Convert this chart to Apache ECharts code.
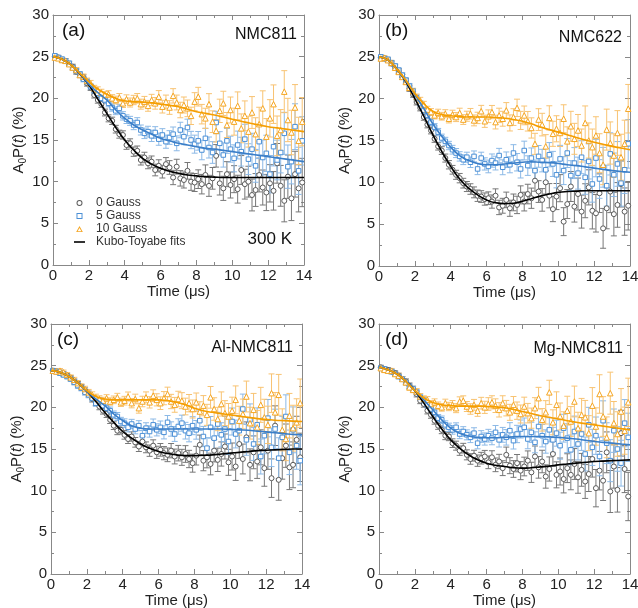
<!DOCTYPE html>
<html><head><meta charset="utf-8">
<script src="https://cdn.jsdelivr.net/npm/echarts@6/dist/echarts.min.js"></script>
<style>html,body{margin:0;padding:0;background:#fff}#c{width:638px;height:608px}</style>
</head><body><div id="c"></div>
<script>
// ---------- DATA ----------
const timeUs = [0.1,0.3,0.5,0.7,0.9,1.1,1.3,1.5,1.7,1.9,2.1,2.3,2.5,2.7,2.9,3.1,3.3,3.5,3.7,3.9,4.1,4.3,4.5,4.7,4.9,5.1,5.3,5.5,5.7,5.9,6.1,6.3,6.5,6.7,6.9,7.1,7.3,7.5,7.7,7.9,8.1,8.3,8.5,8.7,8.9,9.1,9.3,9.5,9.7,9.9,10.1,10.3,10.5,10.7,10.9,11.1,11.3,11.5,11.7,11.9,12.1,12.3,12.5,12.7,12.9,13.1,13.3,13.5,13.7,13.9];
const errBar = [0.25,0.25,0.26,0.27,0.28,0.29,0.3,0.31,0.32,0.33,
0.35,0.36,0.38,0.39,0.41,0.42,0.44,0.46,0.48,0.5,
0.52,0.54,0.56,0.58,0.6,0.63,0.65,0.68,0.7,0.73,
0.76,0.79,0.82,0.86,0.89,0.93,0.96,1.0,1.04,1.08,
1.12,1.17,1.21,1.26,1.3,1.35,1.4,1.45,1.5,1.56,
1.62,1.67,1.73,1.79,1.85,1.91,1.97,2.03,2.1,2.17,
2.24,2.31,2.38,2.45,2.52,2.6,2.67,2.75,2.83,2.9];
const fitTime = [0,0.5,1,1.5,2,2.5,3,3.5,4,4.5,5,5.5,6,6.5,7,7.5,8,8.5,9,9.5,10,10.5,11,11.5,12,12.5,13,13.5,14];

// (a) NMC811
const aZero = [25.0,24.9,24.6,24.5,24.1,23.8,23.2,22.8,22.5,21.8,
21.3,20.4,19.8,19.3,18.3,17.6,17.3,16.3,15.7,15.6,
14.4,14.6,13.6,13.7,12.6,12.9,12.2,12.4,11.4,11.9,
11.2,12.1,11.7,10.5,11.8,10.4,10.2,11.3,10.0,9.9,
10.3,9.7,10.8,9.5,10.4,13.1,9.8,9.2,10.9,9.6,
10.3,9.1,11.4,9.7,10.0,8.4,9.0,10.8,9.3,8.7,
9.8,8.9,12.2,9.5,7.7,10.6,8.0,10.9,9.2,9.9];
const aFive = [25.1,24.9,24.7,24.5,24.2,23.7,23.3,22.9,22.3,22.0,
21.4,20.9,20.6,20.0,19.8,19.4,18.9,18.5,18.8,17.9,
17.5,17.3,16.8,17.1,16.2,15.8,16.0,15.5,15.9,15.1,
15.6,14.8,15.3,15.7,14.6,16.2,15.4,16.5,15.0,14.5,
14.9,13.8,15.2,14.1,13.5,17.1,14.6,13.2,14.9,13.9,
12.8,14.4,13.6,15.1,12.7,13.9,11.9,14.8,12.9,13.4,
10.9,14.2,12.6,13.5,15.8,11.8,12.4,16.6,11.3,14.9];
const aTen = [24.9,24.8,24.6,24.5,24.1,23.7,23.4,22.8,22.6,22.1,
21.8,21.2,21.0,20.7,20.4,20.5,20.0,19.8,20.1,19.4,
19.9,19.5,19.8,20.0,19.3,19.6,19.1,19.8,19.4,20.2,
19.0,19.6,18.9,20.3,19.5,18.6,19.2,18.8,17.9,19.6,
20.2,18.1,17.6,19.3,17.2,16.1,18.5,19.4,16.8,18.6,
17.2,19.1,16.4,17.9,16.0,18.3,15.7,16.9,18.8,15.4,
17.6,19.3,15.5,16.2,20.8,17.4,15.9,18.9,14.9,17.2];
const aZeroFit = [25.0,24.7,24.0,22.9,21.6,19.9,18.2,16.5,15.0,13.8,12.8,12.1,11.6,11.25,11.0,10.8,10.7,10.6,10.55,10.5,10.5,10.5,10.5,10.5,10.5,10.5,10.5,10.5,10.5];
const aFiveFit = [25.0,24.7,24.0,22.95,21.7,20.7,19.8,18.6,17.6,16.8,16.2,15.7,15.2,14.9,14.6,14.4,14.2,14.0,13.9,13.75,13.6,13.45,13.3,13.15,13.0,12.85,12.7,12.55,12.4];
const aTenFit = [25.0,24.7,24.0,23.0,22.0,21.1,20.5,20.0,19.7,19.6,19.55,19.45,19.3,19.15,19.0,18.7,18.4,18.2,18.0,17.75,17.5,17.25,17.0,16.8,16.6,16.45,16.3,16.15,16.0];

// (b) NMC622
const bZero = [24.9,24.8,24.6,24.2,23.8,23.3,22.6,22.1,21.2,20.5,
19.6,18.9,17.8,16.9,16.2,15.2,14.3,13.8,12.9,12.1,
11.5,10.9,10.5,9.9,9.5,9.2,8.8,8.4,8.3,8.0,
8.1,7.7,8.4,7.0,7.2,7.9,6.9,7.6,7.3,8.5,
7.7,8.6,8.1,10.2,8.9,7.9,10.0,8.4,6.8,8.3,
9.3,5.3,7.4,9.5,7.1,8.6,6.5,7.8,9.4,6.6,
6.3,8.7,4.5,6.9,8.9,6.2,7.3,9.8,6.5,7.2];
const bFive = [25.0,24.8,24.7,24.3,23.9,23.4,22.8,22.2,21.5,20.9,
20.1,19.4,18.6,18.0,17.2,16.6,16.0,15.3,14.9,14.4,
13.9,13.5,13.1,12.7,13.0,12.4,13.1,11.6,12.9,12.2,
11.9,12.6,12.3,13.2,11.8,12.7,12.1,13.5,12.4,11.6,
13.8,12.0,12.9,11.4,13.1,12.6,11.5,13.3,12.2,10.9,
12.8,11.4,13.5,10.8,12.3,11.1,13.0,10.6,12.5,9.8,
12.9,10.4,11.8,9.6,13.4,10.9,12.2,9.9,11.5,14.6];
const bTen = [24.8,24.9,24.6,24.3,23.7,23.2,22.6,22.0,21.3,20.9,
20.2,19.8,19.3,18.7,18.4,18.0,18.3,17.9,18.2,17.6,
18.1,17.8,18.3,17.5,17.9,18.2,17.4,17.7,18.5,17.3,
17.9,18.4,17.2,18.0,17.6,18.6,17.1,17.8,18.9,17.4,
18.0,17.3,16.5,14.6,17.5,16.9,14.3,17.7,15.8,16.4,
15.9,17.6,14.9,16.7,15.2,16.2,14.4,17.1,15.0,14.2,
15.6,13.5,12.1,16.3,14.7,13.2,15.9,13.0,14.6,18.8];
const bZeroFit = [25.0,24.6,23.5,22.0,20.0,17.9,15.7,13.7,11.9,10.4,9.3,8.5,7.9,7.55,7.45,7.5,7.75,8.05,8.35,8.6,8.8,8.9,8.95,9.0,9.0,9.0,9.0,9.0,9.0];
const bFiveFit = [25.0,24.6,23.5,22.1,20.5,18.8,17.0,15.5,14.2,13.2,12.6,12.25,12.1,12.1,12.2,12.3,12.4,12.45,12.4,12.35,12.25,12.1,12.0,11.85,11.7,11.55,11.4,11.3,11.2];
const bTenFit = [25.0,24.6,23.5,22.2,20.6,19.4,18.5,18.1,17.95,17.85,17.8,17.8,17.8,17.75,17.65,17.5,17.3,17.0,16.6,16.3,16.0,15.7,15.35,15.05,14.8,14.55,14.3,14.1,13.9];

// (c) Al-NMC811
const cZero = [24.4,24.3,24.2,24.0,23.8,23.5,23.1,22.8,22.4,22.0,
21.6,21.0,20.6,20.1,19.6,19.2,18.5,17.8,17.2,17.3,
16.7,16.2,16.5,15.8,15.3,15.9,15.2,14.8,15.4,14.6,
14.9,14.5,14.3,14.8,14.1,14.5,14.0,14.4,13.8,13.3,
14.2,15.5,13.6,14.0,13.2,14.8,13.7,14.4,15.3,13.4,
14.1,12.9,15.6,13.8,16.4,13.1,14.6,13.5,15.2,12.7,
14.8,11.5,17.8,11.3,13.9,15.4,12.8,13.1,16.1,14.0];
const cFive = [24.4,24.3,24.1,23.9,23.7,23.4,23.0,22.6,22.3,21.8,
21.5,21.1,20.5,20.8,20.2,19.9,19.6,19.1,18.9,18.3,
18.1,17.6,18.0,17.4,17.8,16.6,17.5,17.1,17.9,17.3,
17.6,17.0,18.2,17.4,16.8,17.7,18.1,17.2,16.9,17.8,
17.3,18.4,16.5,15.1,17.6,16.3,18.0,16.7,17.4,15.9,
18.3,16.8,17.2,19.8,16.1,18.5,15.6,17.9,14.1,16.6,
18.7,15.2,17.4,13.9,16.4,18.9,14.6,17.3,15.4,13.6];
const cTen = [24.4,24.3,24.4,24.2,23.9,23.6,23.3,22.9,22.5,22.2,
21.8,21.5,21.2,21.0,20.8,21.1,20.7,20.9,21.2,20.6,
20.8,21.3,20.5,21.0,19.9,20.7,21.2,20.6,21.4,20.9,
20.5,21.1,21.6,20.7,20.3,21.0,20.8,20.1,20.5,19.8,
20.6,19.5,20.2,19.1,21.2,19.8,18.6,20.4,19.3,18.9,
19.6,20.9,18.4,19.2,21.3,18.1,19.7,17.6,20.3,18.8,
17.9,21.7,19.4,21.5,17.3,16.2,19.0,17.5,18.2,20.5];
const cZeroFit = [24.4,24.2,23.7,22.9,21.9,20.7,19.4,18.2,17.1,16.3,15.6,15.1,14.7,14.45,14.3,14.2,14.2,14.25,14.3,14.4,14.5,14.6,14.7,14.8,14.85,14.9,14.95,15.0,15.0];
const cFiveFit = [24.4,24.2,23.7,22.9,21.9,21.0,20.2,19.2,18.4,17.8,17.5,17.4,17.4,17.4,17.4,17.4,17.4,17.4,17.4,17.4,17.35,17.3,17.25,17.15,17.05,16.95,16.85,16.75,16.7];
const cTenFit = [24.4,24.2,23.7,22.9,22.0,21.3,21.0,20.9,20.9,20.9,20.9,20.9,20.9,20.8,20.6,20.3,19.9,19.6,19.4,19.25,19.1,18.95,18.8,18.65,18.55,18.45,18.4,18.35,18.3];

// (d) Mg-NMC811
const dZero = [24.8,24.6,24.5,24.3,24.1,23.8,23.4,23.1,22.6,22.2,
21.6,20.8,20.4,19.6,19.1,18.4,17.8,17.3,16.6,16.5,
15.7,15.4,14.8,15.1,14.3,13.8,14.2,13.6,13.9,14.1,
13.4,14.0,13.1,13.5,12.7,14.3,13.0,12.6,13.3,12.4,
12.9,13.6,12.2,14.1,12.8,13.5,11.7,12.6,14.4,11.9,
12.3,11.4,12.7,11.9,13.2,11.6,12.5,11.1,12.0,13.8,
10.3,12.4,11.2,14.6,9.9,12.9,10.1,16.9,12.6,9.3];
const dFive = [24.7,24.6,24.4,24.3,24.0,23.7,23.4,23.0,22.5,22.2,
21.8,21.2,20.8,20.3,19.8,19.4,18.7,18.5,17.9,17.6,
17.3,17.6,16.8,17.1,16.7,16.4,16.9,15.7,16.5,16.2,
16.6,16.3,17.0,16.1,16.7,16.4,17.2,16.0,16.8,17.4,
17.6,16.2,17.0,15.8,17.7,16.6,15.9,17.3,16.1,16.9,
15.4,17.5,16.3,14.9,17.1,15.6,16.8,14.4,17.9,15.2,
16.6,14.1,18.4,15.7,13.6,17.2,15.0,13.3,18.1,16.4];
const dTen = [24.7,24.5,24.4,24.4,24.0,23.8,23.4,23.0,22.4,22.1,
21.9,21.3,21.0,20.9,20.4,20.6,20.2,20.0,20.5,20.1,
20.3,19.9,20.7,20.8,20.1,19.8,20.3,19.6,20.5,20.0,
20.4,20.6,20.2,19.7,20.5,19.9,19.4,20.3,19.6,19.2,
20.1,19.3,18.7,19.9,21.1,18.5,19.4,21.8,18.2,20.3,
18.9,17.8,19.6,18.3,20.7,17.5,19.1,18.8,16.9,20.2,
17.7,21.6,18.9,16.4,21.7,18.1,16.8,19.5,17.2,20.6];
const dZeroFit = [24.8,24.5,24.0,23.1,22.0,20.5,18.9,17.4,16.1,15.1,14.3,13.7,13.3,13.05,12.9,12.75,12.7,12.75,12.85,12.95,13.1,13.2,13.3,13.4,13.5,13.55,13.6,13.65,13.7];
const dFiveFit = [24.8,24.5,24.0,23.1,22.0,20.9,19.7,18.5,17.5,16.9,16.55,16.4,16.35,16.35,16.4,16.45,16.5,16.5,16.5,16.45,16.4,16.3,16.2,16.05,15.9,15.8,15.7,15.6,15.5];
const dTenFit = [24.8,24.5,24.0,23.1,22.0,21.1,20.6,20.3,20.2,20.15,20.15,20.15,20.1,20.05,19.95,19.75,19.5,19.25,19.0,18.8,18.6,18.4,18.2,18.05,17.9,17.75,17.6,17.45,17.3];

const seriesNames = ['0 Gauss','5 Gauss','10 Gauss'];
const fitName = 'Kubo-Toyabe fits';
const panelTags = ['(a)','(b)','(c)','(d)'];
const panelTitles = ['NMC811','NMC622','Al-NMC811','Mg-NMC811'];
const tempLabel = '300 K';
const xName = 'Time (\u03bcs)';

// ---------- CHART ----------
const panelData = [[aZero,aFive,aTen],[bZero,bFive,bTen],[cZero,cFive,cTen],[dZero,dFive,dTen]];
const panelFits = [[aZeroFit,aFiveFit,aTenFit],[bZeroFit,bFiveFit,bTenFit],[cZeroFit,cFiveFit,cTenFit],[dZeroFit,dFiveFit,dTenFit]];

const FONT = '"Liberation Sans", Arial, Helvetica, sans-serif';
const markerColors = ['#5a5a5a','#4a8fd6','#f5a623'];
const errColors = ['#777777','#8cb9e6','#f8c372'];
const lineColors = ['#000000','#3a7ec8','#f59e00'];
const symbols = ['circle','rect','triangle'];
const symSizes = [5,4.5,5.5];
const legendIcons = [
  'path://M5,0A5,5 0 1,1 5,10A5,5 0 1,1 5,0ZM5,1.6A3.4,3.4 0 1,0 5,8.4A3.4,3.4 0 1,0 5,1.6Z',
  'path://M0,0H10V10H0ZM1.6,1.6V8.4H8.4V1.6Z',
  'path://M5,0L10,9L0,9ZM5,3L2.2,7.8H7.8Z',
  'path://M0,0L11,0L11,1.6L0,1.6Z'
];

const grids = [
  {left:53, top:15, width:251, height:250},
  {left:379, top:15, width:251, height:251},
  {left:51, top:324, width:251, height:250},
  {left:379, top:324, width:251, height:250}
];

const frameColor = '#888';
const xAxes = [], yAxes = [], series = [];
grids.forEach((g, p) => {
  g.outerBoundsMode = 'none';
  const common = {gridIndex:p, type:'value', min:0, splitLine:{show:false},
    axisLine:{show:true, onZero:false, lineStyle:{color:frameColor, width:1}},
    axisTick:{show:true, inside:true, length:5, lineStyle:{color:frameColor}},
    minorTick:{show:true, splitNumber:2, length:3, lineStyle:{color:frameColor}}};
  xAxes.push(Object.assign({}, common, {position:'bottom', max:14, interval:2,
    axisLabel:{show:true, fontSize:15, color:'#222', fontFamily:FONT, margin:3, showMinLabel:true, showMaxLabel:true},
    name:xName, nameLocation:'middle', nameGap:13, nameTextStyle:{fontSize:15, color:'#222', fontFamily:FONT}}));
  xAxes.push(Object.assign({}, common, {position:'top', max:14, interval:2, axisLabel:{show:false}}));
  yAxes.push(Object.assign({}, common, {position:'left', max:30, interval:5,
    axisLabel:{show:true, fontSize:15, color:'#222', fontFamily:FONT, margin:4, showMinLabel:true, showMaxLabel:true},
    name:'{a|A}{s|0}{a|P(}{i|t}{a|) (%)}', nameLocation:'middle', nameGap:25, nameRotate:90,
    nameTextStyle:{fontSize:15, color:'#222', fontFamily:FONT, rich:{
      a:{fontSize:15, fontFamily:FONT, color:'#222', lineHeight:18},
      i:{fontSize:15, fontFamily:FONT, color:'#222', fontStyle:'italic', lineHeight:18},
      s:{fontSize:10, fontFamily:FONT, color:'#222', lineHeight:10, padding:[8,0,0,0]}
    }}}));
  yAxes.push(Object.assign({}, common, {position:'right', max:30, interval:5, axisLabel:{show:false}}));

  const xi = 2*p, yi = 2*p;
  for (let k = 0; k < 3; k++) {
    const vals = panelData[p][k];
    series.push({
      type:'custom', name: seriesNames[k] + ' err', xAxisIndex:xi, yAxisIndex:yi, z:1, silent:true, clip:true,
      itemStyle:{color:errColors[k]},
      encode:{x:0, y:[1,2]},
      data: timeUs.map((t,i) => [t, vals[i]-errBar[i], vals[i]+errBar[i]]),
      renderItem: function(params, api){
        const x = api.value(0), lo = api.value(1), hi = api.value(2);
        const a = api.coord([x, lo]), b = api.coord([x, hi]);
        const cap = 3;
        const st = {stroke: errColors[k], lineWidth: 1};
        return {type:'group', children:[
          {type:'line', shape:{x1:a[0], y1:a[1], x2:b[0], y2:b[1]}, style:st},
          {type:'line', shape:{x1:b[0]-cap, y1:b[1], x2:b[0]+cap, y2:b[1]}, style:st},
          {type:'line', shape:{x1:a[0]-cap, y1:a[1], x2:a[0]+cap, y2:a[1]}, style:st}
        ]};
      }
    });
  }
  for (let k = 0; k < 3; k++) {
    const vals = panelData[p][k];
    series.push({
      type:'scatter', name: seriesNames[k], xAxisIndex:xi, yAxisIndex:yi, z:2, silent:true,
      symbol: symbols[k], symbolSize: symSizes[k],
      itemStyle:{color:'#ffffff', borderColor:markerColors[k], borderWidth:1, opacity:1},
      data: timeUs.map((t,i) => [t, vals[i]])
    });
  }
  for (let k = 0; k < 3; k++) {
    const fit = panelFits[p][k];
    series.push({
      type:'line', name: (p === 0 && k === 0) ? fitName : ('fit ' + p + '-' + k),
      xAxisIndex:xi, yAxisIndex:yi, z:3, silent:true, smooth:true, showSymbol:false, symbol:'none',
      itemStyle:{color:lineColors[k]},
      lineStyle:{color:lineColors[k], width:1.6},
      data: fitTime.map((t,i) => [t, fit[i]])
    });
  }
});

const graphics = [];
const tagPos = [[62,21],[385,21],[57,330],[385,330]];
const titlePos = [[341,27],[16,30],[345,340],[15,341]];
panelTags.forEach((s,p) => graphics.push({type:'text', left:tagPos[p][0], top:tagPos[p][1],
  style:{text:s, fontSize:19, fontFamily:FONT, fill:'#111'}}));
panelTitles.forEach((s,p) => graphics.push({type:'text', right:titlePos[p][0], top:titlePos[p][1],
  style:{text:s, fontSize:16, fontFamily:FONT, fill:'#111'}}));
graphics.push({type:'text', right:346, top:231, style:{text:tempLabel, fontSize:17, fontFamily:FONT, fill:'#111'}});

const chart = echarts.init(document.getElementById('c'), null, {renderer:'canvas'});
chart.setOption({
  animation:false,
  backgroundColor:'#fff',
  textStyle:{fontFamily:FONT},
  grid: grids,
  xAxis: xAxes,
  yAxis: yAxes,
  legend: {
    left:69, top:192, orient:'vertical', itemGap:1, itemWidth:11, itemHeight:6, selectedMode:false,
    textStyle:{fontSize:12, color:'#333', fontFamily:FONT, lineHeight:12, padding:[0,0,0,6]},
    data:[
      {name:seriesNames[0], icon:legendIcons[0], itemStyle:{color:markerColors[0], borderWidth:0}},
      {name:seriesNames[1], icon:legendIcons[1], itemStyle:{color:markerColors[1], borderWidth:0}},
      {name:seriesNames[2], icon:legendIcons[2], itemStyle:{color:markerColors[2], borderWidth:0}},
      {name:fitName, icon:legendIcons[3], itemStyle:{color:lineColors[0], borderWidth:0}}
    ]
  },
  graphic: graphics,
  series: series
});
</script>
</body></html>
